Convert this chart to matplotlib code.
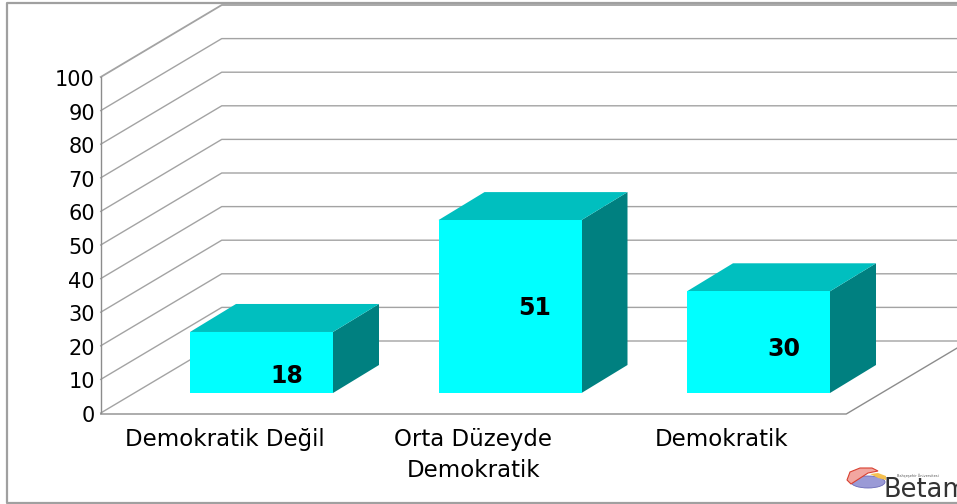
"""3D style column chart: Demokratik Degil / Orta Duzeyde / Demokratik."""

import matplotlib

matplotlib.use("Agg")
import matplotlib.pyplot as plt
from matplotlib.patches import Ellipse, Polygon, Rectangle

categories = ["Demokratik Değil", "Orta Düzeyde\nDemokratik", "Demokratik"]
values = [18, 51, 30]
y_ticks = [0, 10, 20, 30, 40, 50, 60, 70, 80, 90, 100]

WIDTH, HEIGHT = 957, 504
SLOT = 248.5  # px per category
UNIT = 3.36  # px per value unit
X0, Y0 = 225.0, 413.0  # px position of category 0 / value 0

GRID = "#a3a3a3"
FRONT, TOP, SIDE = "#00ffff", "#00bfbf", "#008080"


def dx(px):
    return px / SLOT


def dy(px):
    return px / UNIT


def lx(px):
    return (px - X0) / SLOT


def ly(px):
    return (Y0 - px) / UNIT


fig = plt.figure(figsize=(WIDTH / 100, HEIGHT / 100), dpi=100)
ax = fig.add_axes([0, 0, 1, 1])
ax.set_xlim(-X0 / SLOT, (WIDTH - X0) / SLOT)
ax.set_ylim((Y0 - HEIGHT) / UNIT, Y0 / UNIT)
ax.axis("off")

left = -0.5
right = len(categories) - 0.5
wall_x, wall_y = dx(121), dy(72)

# outer chart border (no line on the right side)
ax.plot([lx(957), lx(6.5), lx(6.5), lx(957)], [ly(3), ly(3), ly(503), ly(503)],
        color="#a0a0a0", lw=1.6, zorder=1)

# side wall + back wall grid lines
for tick in y_ticks:
    ax.plot(
        [left, left + wall_x, right + wall_x + 1],
        [tick, tick + wall_y, tick + wall_y],
        color=GRID,
        lw=1.3 if tick == 100 else 1.0,
        zorder=2,
    )
    ax.text(left - dx(6), tick - dy(3), str(tick), ha="right", va="center",
            fontsize=15, color="black")

# axis frame and floor
ax.plot([left, left], [0, 100], color="#8c8c8c", lw=1.0, zorder=2)
ax.plot([left, right, right + wall_x],
        [-dy(1), -dy(1), wall_y - dy(1)], color="#8c8c8c", lw=1.0, zorder=2)

# columns
shift_x, base = dx(36.5), dy(20)
bar_w = 143 / SLOT
depth_x, depth_y = dx(46), dy(28)
bar_scale = 1.009
label_frac = [0.28, 0.49, 0.43]

for i, value in enumerate(values):
    x0 = i + shift_x - bar_w / 2
    x1 = x0 + bar_w
    top = base + value * bar_scale
    ax.add_patch(Polygon([(x1, base), (x1 + depth_x, base + depth_y),
                          (x1 + depth_x, top + depth_y), (x1, top)],
                         facecolor=SIDE, edgecolor="none", zorder=3))
    ax.add_patch(Polygon([(x0, top), (x1, top), (x1 + depth_x, top + depth_y),
                          (x0 + depth_x, top + depth_y)],
                         facecolor=TOP, edgecolor="none", zorder=3))
    ax.add_patch(Rectangle((x0, base), bar_w, top - base,
                           facecolor=FRONT, edgecolor="none", zorder=4))
    ax.text(i + shift_x + dx(25), base + value * bar_scale * label_frac[i], str(value),
            ha="center", va="center", fontsize=17, fontweight="bold",
            color="black", zorder=5)

# category labels
for i, label in enumerate(categories):
    ax.text(i, -dy(15), label, ha="center", va="top", fontsize=16.5,
            linespacing=1.45, color="black")

# Betam logo, bottom right corner
ax.add_patch(Ellipse((lx(868), ly(482)), dx(34), dy(12), facecolor="#9a9ad6",
                     edgecolor="#6a6ab8", lw=0.6, zorder=5))
ax.add_patch(Polygon([(lx(847), ly(480)), (lx(850), ly(472)), (lx(860), ly(468)),
                      (lx(872), ly(468)), (lx(878), ly(471)), (lx(868), ly(473)),
                      (lx(851), ly(484))],
                     facecolor="#f2a6a0", edgecolor="#d84030", lw=0.8, zorder=6))
ax.add_patch(Polygon([(lx(870), ly(474)), (lx(878), ly(473)), (lx(886), ly(476)),
                      (lx(886), ly(480)), (lx(878), ly(478))],
                     facecolor="#f5c050", edgecolor="none", zorder=6))
ax.text(lx(884), ly(490), "Betam", ha="left", va="center", fontsize=18.5,
        color="#333333", zorder=7, clip_on=True)
ax.text(lx(897), ly(476), "Bahçeşehir Üniversitesi", ha="left", va="center",
        fontsize=2.5, color="#555555", zorder=7, clip_on=True)

fig.savefig("out.png", dpi=100)
